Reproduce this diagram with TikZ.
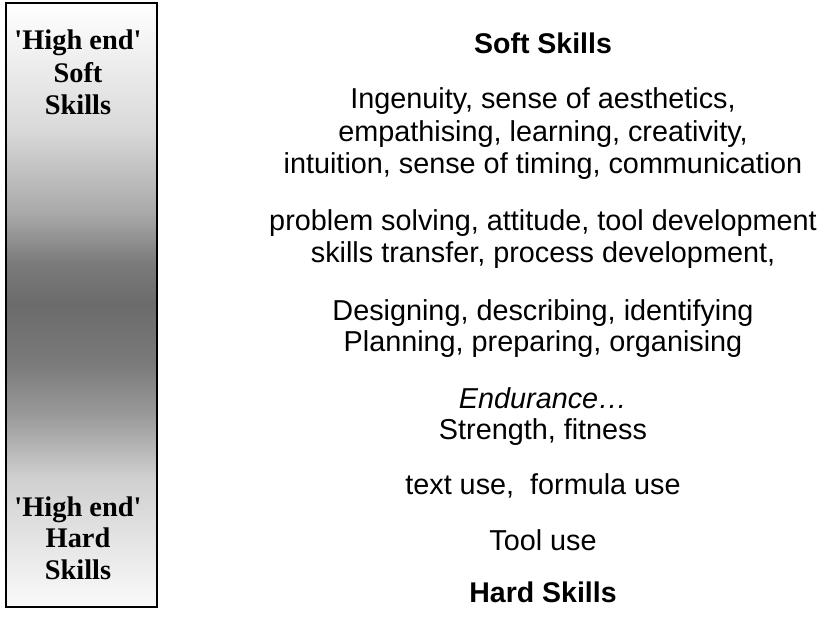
\documentclass[tikz,border=0pt]{standalone}
\usepackage{fontspec}
\setmainfont{Liberation Serif}
\setsansfont{Liberation Sans}
\begin{document}
\definecolor{s0}{gray}{0.98}
\definecolor{s1}{gray}{0.815}
\definecolor{s2}{gray}{0.60}
\definecolor{s3}{gray}{0.48}
\definecolor{s4}{gray}{0.42}
\definecolor{s5}{gray}{0.48}
\definecolor{s6}{gray}{0.66}
\definecolor{s7}{gray}{0.85}
\definecolor{s8}{gray}{1.0}
\pgfdeclareverticalshading{barshade}{100bp}{color(0bp)=(s0); color(25bp)=(s0); color(35.75bp)=(s1); color(41bp)=(s2); color(45.2bp)=(s3); color(50.15bp)=(s4); color(53.5bp)=(s5); color(57.6bp)=(s6); color(64.5bp)=(s7); color(75bp)=(s8); color(100bp)=(s8)}
\begin{tikzpicture}[x=1pt,y=1pt,
  barlabel/.style={font=\rmfamily\bfseries\fontsize{28.4}{32.5}\selectfont, align=center, anchor=base, inner sep=0pt},
  skill/.style={font=\sffamily\fontsize{28.8}{32.5}\selectfont, anchor=base, inner sep=0pt},
  skillhead/.style={font=\sffamily\bfseries\fontsize{28.5}{32.5}\selectfont, anchor=base, inner sep=0pt}]
\useasboundingbox (0,0) rectangle (836,624);
\fill[white] (0,0) rectangle (836,624);
% gradient bar
\node[draw=black, line width=2pt, shading=barshade, minimum width=151pt, minimum height=604pt, inner sep=0pt, anchor=north west] (bar) at (4.5,621.5) {};
% bar labels
\node[barlabel] (t1) at (78,624-50) {\textquotesingle High end\textquotesingle};
\node[barlabel] (t2) at (78,624-83) {Soft};
\node[barlabel] (t3) at (78,624-115) {Skills};
\node[barlabel] (b1) at (78,624-517) {\textquotesingle High end\textquotesingle};
\node[barlabel] (b2) at (78,624-548) {Hard};
\node[barlabel] (b3) at (78,624-580) {Skills};
% skills
\def\cx{543}
\node[skillhead] (soft) at (\cx,624-54) {Soft Skills};
\node[skill] (a1) at (\cx,624-109) {Ingenuity, sense of aesthetics,};
\node[skill] (a2) at (\cx,624-142) {empathising, learning, creativity,};
\node[skill] (a3) at (\cx,624-174) {intuition, sense of timing, communication};
\node[skill] (p1) at (\cx,624-231) {problem solving, attitude, tool development};
\node[skill] (p2) at (\cx,624-263) {skills transfer, process development,};
\node[skill] (d1) at (\cx,624-321) {Designing, describing, identifying};
\node[skill] (d2) at (\cx,624-352) {Planning, preparing, organising};
\node[skill] (e1) at (\cx,624-409) {\itshape Endurance\ldots};
\node[skill] (e2) at (\cx,624-440) {Strength, fitness};
\node[skill] (u1) at (\cx,624-495) {text use,\ \ formula use};
\node[skill] (u2) at (\cx,624-551) {Tool use};
\node[skillhead] (hard) at (\cx,624-603) {Hard Skills};
\end{tikzpicture}
\end{document}
